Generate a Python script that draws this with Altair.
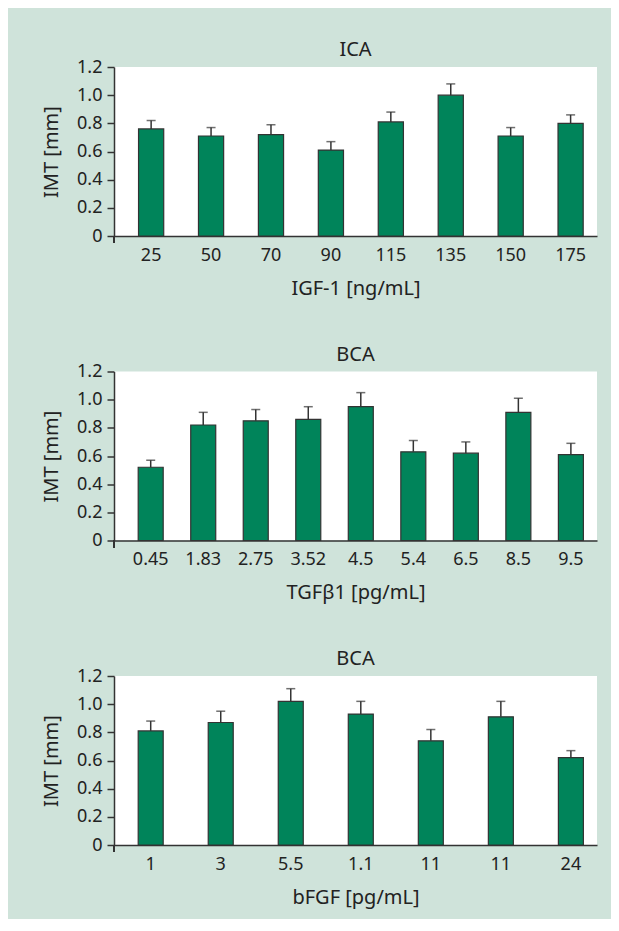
import altair as alt
import pandas as pd

# ---- data ----
ica_labels = ["25", "50", "70", "90", "115", "135", "150", "175"]
ica_mean = [0.76, 0.71, 0.72, 0.61, 0.81, 1.00, 0.71, 0.80]
ica_upper = [0.82, 0.77, 0.79, 0.67, 0.88, 1.08, 0.77, 0.86]

tgf_labels = ["0.45", "1.83", "2.75", "3.52", "4.5", "5.4", "6.5", "8.5", "9.5"]
tgf_mean = [0.52, 0.82, 0.85, 0.86, 0.95, 0.63, 0.62, 0.91, 0.61]
tgf_upper = [0.57, 0.91, 0.93, 0.95, 1.05, 0.71, 0.70, 1.01, 0.69]

fgf_labels = ["1", "3", "5.5", "1.1", "11", "11", "24"]
fgf_mean = [0.81, 0.87, 1.02, 0.93, 0.74, 0.91, 0.62]
fgf_upper = [0.88, 0.95, 1.11, 1.02, 0.82, 1.02, 0.67]

y_ticks = [0, 0.2, 0.4, 0.6, 0.8, 1.0, 1.2]

GREEN = "#00845a"
BG = "#cfe3da"
INK = "#333333"
TEXT = "#222222"
FONT = "Noto Sans"
W, H = 483, 169


def panel(title, xtitle, labels, mean, upper, pin, pout):
    df = pd.DataFrame({"i": list(range(len(labels))), "mean": mean, "upper": upper})
    label_js = "[" + ",".join("'" + l + "'" for l in labels) + "]"
    xscale = alt.Scale(paddingInner=pin, paddingOuter=pout, align=0.64)
    xaxis = alt.Axis(
        labelExpr=label_js + "[datum.value]",
        labelAngle=0,
        ticks=False,
        tickSize=0,
        labelPadding=10,
        titlePadding=14,
    )
    x = alt.X("i:O", title=xtitle, scale=xscale, axis=xaxis)
    yscale = alt.Scale(domain=[0, 1.2], nice=False, zero=True)
    yaxis = alt.Axis(
        values=y_ticks,
        labelExpr="datum.value == 0 ? '0' : format(datum.value, '.1f')",
        labelOverlap=False,
        grid=False,
        tickSize=7,
        labelPadding=5,
        titlePadding=15,
    )
    base = alt.Chart(df)
    bars = base.mark_bar(fill=GREEN, stroke=INK, strokeWidth=1.2).encode(
        x=x, y=alt.Y("mean:Q", title="IMT [mm]", scale=yscale, axis=yaxis)
    )
    err = base.mark_rule(color=INK, strokeWidth=1.5).encode(
        x=x,
        y=alt.Y("mean:Q", title="IMT [mm]", scale=yscale, axis=yaxis),
        y2="upper:Q",
    )
    cap = base.mark_tick(color=INK, thickness=1.5, size=9).encode(
        x=x, y=alt.Y("upper:Q", title="IMT [mm]", scale=yscale, axis=yaxis)
    )
    ext = base.mark_rule(color=INK, strokeWidth=1.5).encode(
        x=alt.value(0), y=alt.value(H), y2=alt.value(H + 7)
    )
    return alt.layer(bars, err, cap, ext).properties(
        width=W,
        height=H,
        title=alt.Title(title, fontSize=20, font=FONT, color=TEXT, fontWeight="normal", offset=-2),
    )


p1 = panel("ICA", "IGF-1 [ng/mL]", ica_labels, ica_mean, ica_upper, 0.58, 0.32)
p2 = panel("BCA", "TGFβ1 [pg/mL]", tgf_labels, tgf_mean, tgf_upper, 0.524, 0.36)
p3 = panel("BCA", "bFGF [pg/mL]", fgf_labels, fgf_mean, fgf_upper, 0.643, 0.27)

chart = (
    alt.vconcat(p1, p2, p3, spacing=46.5)
    .properties(
        background=BG,
        padding={"left": 33, "right": 14, "top": 32, "bottom": 12},
    )
    .configure_view(fill="white", stroke=None)
    .configure_axis(
        domainColor=INK,
        domainWidth=1.5,
        tickColor=INK,
        tickWidth=1.5,
        labelFont=FONT,
        labelFontSize=18,
        labelColor=TEXT,
        titleFont=FONT,
        titleFontSize=20,
        titleFontWeight="normal",
        titleColor=TEXT,
    )
)

chart.save("out.html", embed_options={"renderer": "svg", "actions": False})
